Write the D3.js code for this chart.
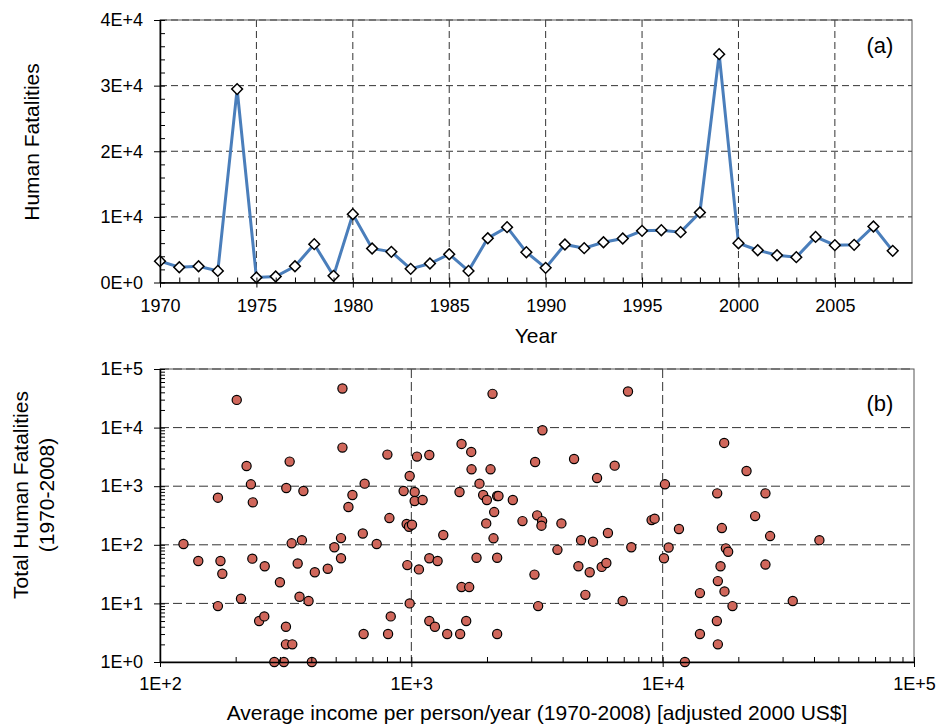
<!DOCTYPE html>
<html>
<head>
<meta charset="utf-8">
<script src="https://cdn.jsdelivr.net/npm/d3@7"></script>
<style>
  body { margin: 0; background: #fff; }
  text { fill: #000; }
</style>
</head>
<body>
<script>
// (a) yearly fatalities
var years = [1970, 1971, 1972, 1973, 1974, 1975, 1976, 1977, 1978, 1979,
             1980, 1981, 1982, 1983, 1984, 1985, 1986, 1987, 1988, 1989,
             1990, 1991, 1992, 1993, 1994, 1995, 1996, 1997, 1998, 1999,
             2000, 2001, 2002, 2003, 2004, 2005, 2006, 2007, 2008];
var yearDeaths = [3250, 2330, 2480, 1770, 29470, 760, 910, 2480, 5840, 1010,
                  10410, 5180, 4670, 2080, 2890, 4310, 1770, 6750, 8430, 4620,
                  2230, 5790, 5230, 6140, 6700, 7870, 7970, 7670, 10670, 34800,
                  5990, 4920, 4160, 3860, 6950, 5690, 5740, 8540, 4820];
var yearTicks = [1970, 1975, 1980, 1985, 1990, 1995, 2000, 2005];
var deathTicks = [0, 10000, 20000, 30000, 40000];

// (b) income vs total fatalities, one entry per country
var income = [532, 202, 532, 803, 1053, 221, 328, 985, 230, 652,
              170, 318, 372, 234, 583, 562, 932, 1031, 1031, 818,
              958, 979, 1006, 124, 334, 367, 525, 641, 728, 494,
              142, 174, 177, 233, 261, 353, 525, 413, 465, 964,
              1072, 300, 210, 170, 359, 390, 985, 248, 260, 317,
              828, 646, 808, 317, 336, 285, 311, 402,
              2104, 7278, 3324, 1584, 1731, 1179, 3108, 4441, 6442, 1736,
              2066, 5481, 1867, 10210, 1555, 1109, 1931, 1998, 2195, 2222,
              2534, 2136, 1340, 1986, 2768, 3167, 3314, 3294, 3955, 2123,
              4735, 5283, 6057, 9036, 9290, 7503, 3813, 10560, 1179, 1272,
              1817, 2195, 4620, 5125, 5720, 5969, 10120, 3090, 1584, 1699,
              4926, 6931, 3195, 1179, 1241, 1653, 1389, 1564, 2195,
              17570, 21560, 16480, 25640, 23330, 11610, 17200, 26760, 42030, 17840,
              18220, 16990, 25640, 16580, 14070, 17620, 32930, 18960, 16430, 14070,
              16580, 12260];
var totalDeaths = [46500, 29700, 4560, 3460, 3200, 2215, 2627, 1494, 1077, 1105,
                   637, 931, 828, 530, 707, 441, 828, 796, 558, 286,
                   226, 203, 220, 103, 106, 120, 130, 156, 103, 91,
                   53, 53, 32, 58, 43, 48, 59, 34, 39, 45,
                   38, 23, 12, 9, 13, 11, 10, 5, 6, 4,
                   6, 3, 3, 2, 2, 1, 1, 1,
                   37680, 41300, 9017, 5264, 3842, 3414, 2593, 2917, 2244, 1942,
                   1942, 1381, 1105, 1077, 796, 581, 707, 581, 680, 680,
                   581, 362, 147, 232, 254, 318, 254, 212, 232, 129,
                   120, 113, 159, 264, 279, 91, 82, 90, 59, 53,
                   60, 60, 43, 34, 42, 49, 59, 31, 19, 19,
                   14, 11, 9, 5, 4, 5, 3, 3, 3,
                   5475, 1819, 755, 755, 309, 186, 193, 141, 120, 87,
                   76, 43, 46, 24, 15, 16, 11, 9, 5, 3,
                   2, 1];
var decades = [1, 10, 100, 1000, 10000, 100000];

var svg = d3.select("body").append("svg")
    .attr("width", 939)
    .attr("height", 727)
    .style("font-family", "'Liberation Sans', Arial, sans-serif");

function styleAxis(g) {
    g.select(".domain").attr("stroke", "#000").attr("stroke-width", 1.5);
    g.selectAll(".tick line").attr("stroke", "#000").attr("stroke-width", 1);
    g.selectAll(".tick text").attr("font-size", 18).attr("fill", "#000");
}
function minorAxis(g) {
    g.select(".domain").remove();
    g.selectAll(".tick line").attr("stroke", "#000").attr("stroke-width", 1);
}

// ---------- panel (a) ----------
var a = {left: 160, right: 912, top: 20, bottom: 282.5};
var xA = d3.scaleLinear().domain([1970, 2009]).range([a.left, a.right]);
var yA = d3.scaleLinear().domain([0, 40000]).range([a.bottom, a.top]);

var gridA = svg.append("g").attr("stroke", "#333").attr("stroke-dasharray", "7,4");
gridA.selectAll("line.v").data(yearTicks.slice(1))
    .join("line")
    .attr("x1", d => xA(d)).attr("x2", d => xA(d))
    .attr("y1", a.top).attr("y2", a.bottom);
gridA.selectAll("line.h").data(deathTicks.slice(1))
    .join("line")
    .attr("x1", a.left).attr("x2", a.right)
    .attr("y1", d => yA(d)).attr("y2", d => yA(d));

svg.append("rect")
    .attr("x", a.left).attr("y", a.top)
    .attr("width", a.right - a.left).attr("height", a.bottom - a.top)
    .attr("fill", "none").attr("stroke", "#555").attr("stroke-width", 1);

svg.append("path")
    .datum(years)
    .attr("fill", "none")
    .attr("stroke", "#4A7EBB")
    .attr("stroke-width", 3)
    .attr("d", d3.line()
        .x(d => xA(d))
        .y((d, i) => yA(yearDeaths[i])));

svg.append("g").selectAll("path")
    .data(years)
    .join("path")
    .attr("d", d3.symbol(d3.symbolSquare, 58))
    .attr("transform", (d, i) => "translate(" + xA(d) + "," + yA(yearDeaths[i]) + ") rotate(45)")
    .attr("fill", "#fff")
    .attr("stroke", "#000")
    .attr("stroke-width", 1.5);

svg.append("g")
    .attr("transform", "translate(0," + a.bottom + ")")
    .call(d3.axisBottom(xA).tickValues(years).tickSize(-5).tickFormat(""))
    .call(minorAxis);
svg.append("g")
    .attr("transform", "translate(" + a.left + ",0)")
    .call(d3.axisLeft(yA).tickValues(d3.range(0, 40001, 2000)).tickSize(-5).tickFormat(""))
    .call(minorAxis);

svg.append("g")
    .attr("transform", "translate(0," + a.bottom + ")")
    .call(d3.axisBottom(xA).tickValues(yearTicks).tickFormat(d3.format("d"))
        .tickSize(5).tickSizeOuter(0).tickPadding(12))
    .call(styleAxis);
svg.append("g")
    .attr("transform", "translate(" + a.left + ",0)")
    .call(d3.axisLeft(yA).tickValues(deathTicks)
        .tickFormat(d => d === 0 ? "0E+0" : (d / 10000) + "E+4")
        .tickSize(6).tickSizeOuter(0).tickPadding(11))
    .call(styleAxis);

svg.append("text")
    .attr("transform", "translate(31,142) rotate(-90)")
    .attr("text-anchor", "middle")
    .attr("dominant-baseline", "central")
    .attr("font-size", 21)
    .text("Human Fatalities");
svg.append("text")
    .attr("x", (a.left + a.right) / 2).attr("y", 343)
    .attr("text-anchor", "middle")
    .attr("font-size", 21)
    .text("Year");
svg.append("text")
    .attr("x", 880).attr("y", 45)
    .attr("text-anchor", "middle")
    .attr("dominant-baseline", "central")
    .attr("font-size", 22)
    .text("(a)");

// ---------- panel (b) ----------
var b = {left: 160, right: 914, top: 369, bottom: 662};
var xB = d3.scaleLog().domain([100, 100000]).range([b.left, b.right]);
var yB = d3.scaleLog().domain([1, 100000]).range([b.bottom, b.top]);

var gridB = svg.append("g").attr("stroke", "#333").attr("stroke-dasharray", "9,4");
gridB.selectAll("line.v").data([1000, 10000])
    .join("line")
    .attr("x1", d => xB(d)).attr("x2", d => xB(d))
    .attr("y1", b.top).attr("y2", b.bottom);
gridB.selectAll("line.h").data(decades.slice(1))
    .join("line")
    .attr("x1", b.left).attr("x2", b.right)
    .attr("y1", d => yB(d)).attr("y2", d => yB(d));

svg.append("rect")
    .attr("x", b.left).attr("y", b.top)
    .attr("width", b.right - b.left).attr("height", b.bottom - b.top)
    .attr("fill", "none").attr("stroke", "#555").attr("stroke-width", 1);

svg.append("g").selectAll("circle")
    .data(income)
    .join("circle")
    .attr("cx", d => xB(d))
    .attr("cy", (d, i) => yB(totalDeaths[i]))
    .attr("r", 4.6)
    .attr("fill", "#D0675B")
    .attr("stroke", "#000")
    .attr("stroke-width", 1.2);

var minorX = [], minorY = [];
decades.forEach(function(d) {
    for (var k = 1; k < 10; k++) {
        if (d >= 100 && d * k <= 100000) minorX.push(d * k);
        if (d * k <= 100000) minorY.push(d * k);
    }
});

svg.append("g")
    .attr("transform", "translate(0," + b.bottom + ")")
    .call(d3.axisBottom(xB).tickValues(minorX).tickSize(-5).tickFormat(""))
    .call(minorAxis);
svg.append("g")
    .attr("transform", "translate(" + b.left + ",0)")
    .call(d3.axisLeft(yB).tickValues(minorY).tickSize(-5).tickFormat(""))
    .call(minorAxis);

svg.append("g")
    .attr("transform", "translate(0," + b.bottom + ")")
    .call(d3.axisBottom(xB).tickValues([100, 1000, 10000, 100000])
        .tickFormat(d => "1E+" + Math.round(Math.log10(d)))
        .tickSize(5).tickSizeOuter(0).tickPadding(10))
    .call(styleAxis);
svg.append("g")
    .attr("transform", "translate(" + b.left + ",0)")
    .call(d3.axisLeft(yB).tickValues(decades)
        .tickFormat(d => "1E+" + Math.round(Math.log10(d)))
        .tickSize(6).tickSizeOuter(0).tickPadding(11))
    .call(styleAxis);

svg.append("text")
    .attr("transform", "translate(20,495) rotate(-90)")
    .attr("text-anchor", "middle")
    .attr("dominant-baseline", "central")
    .attr("font-size", 21)
    .text("Total Human Fatalities");
svg.append("text")
    .attr("transform", "translate(46,495) rotate(-90)")
    .attr("text-anchor", "middle")
    .attr("dominant-baseline", "central")
    .attr("font-size", 21)
    .text("(1970-2008)");
svg.append("text")
    .attr("x", (b.left + b.right) / 2).attr("y", 720)
    .attr("text-anchor", "middle")
    .attr("font-size", 21)
    .text("Average income per person/year (1970-2008) [adjusted 2000 US$]");
svg.append("text")
    .attr("x", 880).attr("y", 403)
    .attr("text-anchor", "middle")
    .attr("dominant-baseline", "central")
    .attr("font-size", 22)
    .text("(b)");
</script>
</body>
</html>
